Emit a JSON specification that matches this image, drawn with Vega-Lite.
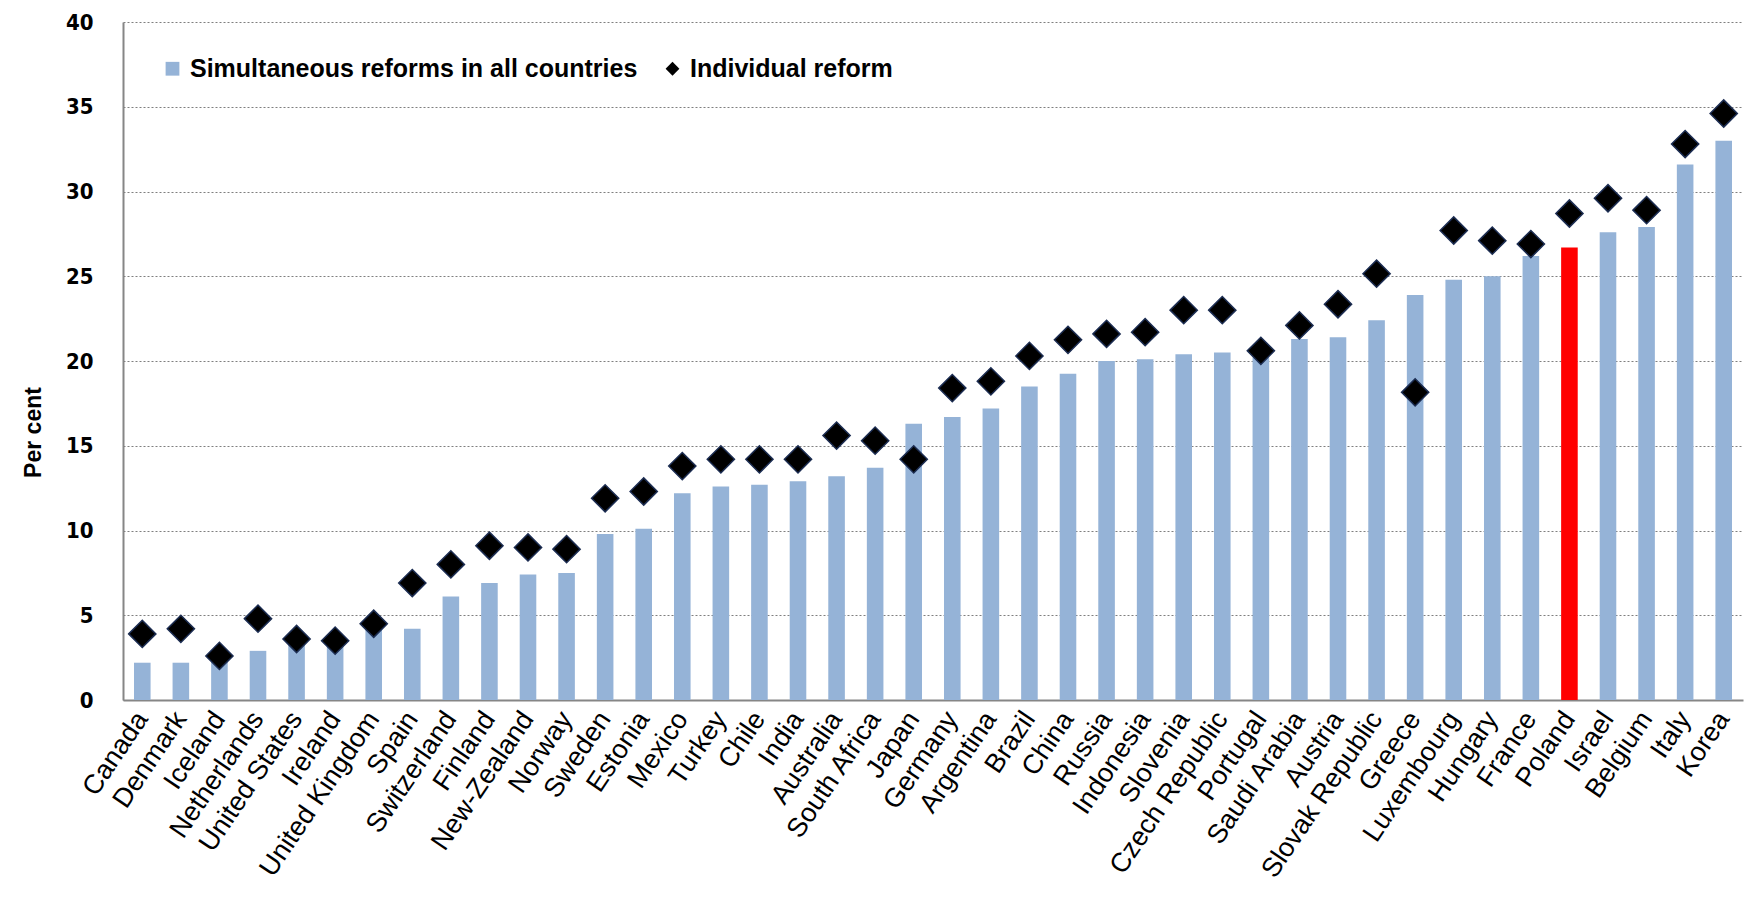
{
  "$schema": "https://vega.github.io/schema/vega-lite/v6.json",
  "width": 1620,
  "height": 678,
  "autosize": {"type": "none"},
  "padding": {"left": 123, "top": 22, "right": 4, "bottom": 200},
  "background": "white",
  "config": {
    "view": {"stroke": null},
    "font": "Liberation Sans",
    "axis": {"labelColor": "#000000", "titleColor": "#000000"}
  },
  "data": {
    "values": [
      {"country": "Canada", "Simultaneous reforms in all countries": 2.2, "Individual reform": 3.9},
      {"country": "Denmark", "Simultaneous reforms in all countries": 2.2, "Individual reform": 4.2},
      {"country": "Iceland", "Simultaneous reforms in all countries": 2.3, "Individual reform": 2.6},
      {"country": "Netherlands", "Simultaneous reforms in all countries": 2.9, "Individual reform": 4.8},
      {"country": "United States", "Simultaneous reforms in all countries": 3.4, "Individual reform": 3.6},
      {"country": "Ireland", "Simultaneous reforms in all countries": 3.3, "Individual reform": 3.5},
      {"country": "United Kingdom", "Simultaneous reforms in all countries": 4.2, "Individual reform": 4.5},
      {"country": "Spain", "Simultaneous reforms in all countries": 4.2, "Individual reform": 6.9},
      {"country": "Switzerland", "Simultaneous reforms in all countries": 6.1, "Individual reform": 8.0},
      {"country": "Finland", "Simultaneous reforms in all countries": 6.9, "Individual reform": 9.1},
      {"country": "New-Zealand", "Simultaneous reforms in all countries": 7.4, "Individual reform": 9.0},
      {"country": "Norway", "Simultaneous reforms in all countries": 7.5, "Individual reform": 8.9},
      {"country": "Sweden", "Simultaneous reforms in all countries": 9.8, "Individual reform": 11.9},
      {"country": "Estonia", "Simultaneous reforms in all countries": 10.1, "Individual reform": 12.3},
      {"country": "Mexico", "Simultaneous reforms in all countries": 12.2, "Individual reform": 13.8},
      {"country": "Turkey", "Simultaneous reforms in all countries": 12.6, "Individual reform": 14.2},
      {"country": "Chile", "Simultaneous reforms in all countries": 12.7, "Individual reform": 14.2},
      {"country": "India", "Simultaneous reforms in all countries": 12.9, "Individual reform": 14.2},
      {"country": "Australia", "Simultaneous reforms in all countries": 13.2, "Individual reform": 15.6},
      {"country": "South Africa", "Simultaneous reforms in all countries": 13.7, "Individual reform": 15.3},
      {"country": "Japan", "Simultaneous reforms in all countries": 16.3, "Individual reform": 14.2},
      {"country": "Germany", "Simultaneous reforms in all countries": 16.7, "Individual reform": 18.4},
      {"country": "Argentina", "Simultaneous reforms in all countries": 17.2, "Individual reform": 18.8},
      {"country": "Brazil", "Simultaneous reforms in all countries": 18.5, "Individual reform": 20.3},
      {"country": "China", "Simultaneous reforms in all countries": 19.25, "Individual reform": 21.25},
      {"country": "Russia", "Simultaneous reforms in all countries": 20.0, "Individual reform": 21.6},
      {"country": "Indonesia", "Simultaneous reforms in all countries": 20.1, "Individual reform": 21.7},
      {"country": "Slovenia", "Simultaneous reforms in all countries": 20.4, "Individual reform": 23.0},
      {"country": "Czech Republic", "Simultaneous reforms in all countries": 20.5, "Individual reform": 23.0},
      {"country": "Portugal", "Simultaneous reforms in all countries": 20.2, "Individual reform": 20.6},
      {"country": "Saudi Arabia", "Simultaneous reforms in all countries": 21.3, "Individual reform": 22.1},
      {"country": "Austria", "Simultaneous reforms in all countries": 21.4, "Individual reform": 23.35},
      {"country": "Slovak Republic", "Simultaneous reforms in all countries": 22.4, "Individual reform": 25.15},
      {"country": "Greece", "Simultaneous reforms in all countries": 23.9, "Individual reform": 18.15},
      {"country": "Luxembourg", "Simultaneous reforms in all countries": 24.8, "Individual reform": 27.7},
      {"country": "Hungary", "Simultaneous reforms in all countries": 25.0, "Individual reform": 27.1},
      {"country": "France", "Simultaneous reforms in all countries": 26.2, "Individual reform": 26.9},
      {"country": "Poland", "Simultaneous reforms in all countries": 26.7, "Individual reform": 28.7},
      {"country": "Israel", "Simultaneous reforms in all countries": 27.6, "Individual reform": 29.6},
      {"country": "Belgium", "Simultaneous reforms in all countries": 27.9, "Individual reform": 28.9},
      {"country": "Italy", "Simultaneous reforms in all countries": 31.6, "Individual reform": 32.8},
      {"country": "Korea", "Simultaneous reforms in all countries": 33.0, "Individual reform": 34.6}
    ]
  },
  "transform": [
    {"fold": ["Simultaneous reforms in all countries", "Individual reform"], "as": ["series", "value"]}
  ],
  "encoding": {
    "x": {
      "field": "country",
      "type": "nominal",
      "sort": null,
      "scale": {"paddingInner": 0.57, "paddingOuter": 0.285},
      "axis": {
        "title": null,
        "labelAngle": -56,
        "labelAlign": "right",
        "labelBaseline": "middle",
        "labelFont": "Liberation Sans",
        "labelFontSize": 27,
        "labelPadding": 14,
        "ticks": false,
        "domainColor": "#868686",
        "domainWidth": 2,
        "labelOverlap": false,
        "labelLimit": 1000
      }
    },
    "y": {
      "field": "value",
      "type": "quantitative",
      "scale": {"domain": [0, 40], "nice": false},
      "axis": {
        "title": "Per cent",
        "titleFont": "Liberation Sans",
        "titleFontSize": 23,
        "titleFontWeight": "bold",
        "titlePadding": 20,
        "titleY": 410,
        "values": [0, 5, 10, 15, 20, 25, 30, 35, 40],
        "labelFont": "DejaVu Sans Condensed, Liberation Sans Narrow, Liberation Sans",
        "labelFontSize": 22,
        "labelFontWeight": "bold",
        "labelPadding": 30,
        "ticks": false,
        "domainColor": "#868686",
        "domainWidth": 2,
        "grid": true,
        "gridColor": "#7f7f7f",
        "gridDash": [2, 2],
        "gridWidth": 1
      }
    }
  },
  "layer": [
    {
      "transform": [{"filter": "datum.series === 'Simultaneous reforms in all countries'"}],
      "mark": {"type": "bar"},
      "encoding": {
        "color": {
          "condition": {"test": "datum.country === 'Poland'", "value": "#FF0000"},
          "field": "series",
          "type": "nominal",
          "scale": {
            "domain": ["Simultaneous reforms in all countries", "Individual reform"],
            "range": ["#95B3D7", "#000000"]
          },
          "legend": {
            "title": null,
            "orient": "none",
            "legendX": 37,
            "legendY": 34,
            "direction": "horizontal",
            "labelFont": "Liberation Sans",
            "labelFontWeight": "bold",
            "labelFontSize": 25,
            "labelColor": "#000000",
            "labelLimit": 1000,
            "symbolSize": 190,
            "symbolStrokeWidth": 0,
            "columnPadding": 22,
            "labelOffset": 5
          }
        }
      }
    },
    {
      "transform": [{"filter": "datum.series === 'Individual reform'"}],
      "mark": {"type": "point", "filled": true, "size": 740, "stroke": "#1c2d52", "strokeWidth": 1.5, "opacity": 1},
      "encoding": {
        "color": {"field": "series", "type": "nominal"},
        "shape": {
          "field": "series",
          "type": "nominal",
          "scale": {
            "domain": ["Simultaneous reforms in all countries", "Individual reform"],
            "range": ["square", "diamond"]
          }
        }
      }
    }
  ]
}
